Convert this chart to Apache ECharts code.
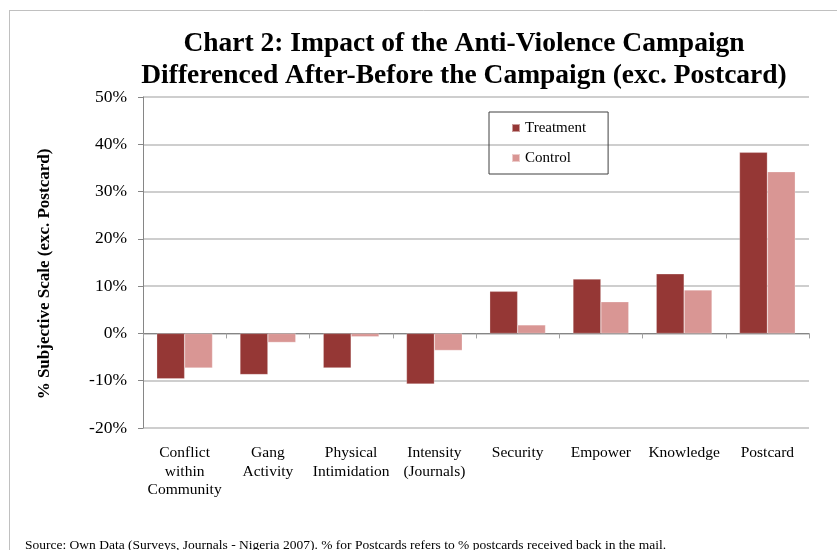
<!DOCTYPE html>
<html>
<head>
<meta charset="utf-8">
<script src="https://cdn.jsdelivr.net/npm/echarts@6/dist/echarts.min.js"></script>
<style>html,body{margin:0;padding:0;background:#fff;}#chart{width:837px;height:550px;}</style>
</head>
<body>
<div id="chart"></div>
<script>
const categories = ['Conflict\nwithin\nCommunity', 'Gang\nActivity', 'Physical\nIntimidation', 'Intensity\n(Journals)', 'Security', 'Empower', 'Knowledge', 'Postcard'];
const treatment = [-9.6, -8.7, -7.3, -10.7, 8.9, 11.5, 12.6, 38.3];
const control = [-7.3, -1.9, -0.7, -3.6, 1.8, 6.7, 9.2, 34.2];
const yTicks = { min: -20, max: 50, interval: 10 };

const FONT = "'Liberation Serif', 'Times New Roman', serif";
const chart = echarts.init(document.getElementById('chart'));
chart.setOption({
  backgroundColor: '#fff',
  animation: false,
  title: [{
    text: 'Chart 2: Impact of the Anti-Violence Campaign\nDifferenced After-Before the Campaign (exc. Postcard)',
    left: 459, top: 23, textAlign: 'center',
    textStyle: { fontFamily: FONT, fontSize: 27.5, fontWeight: 'bold', color: '#000', lineHeight: 32 }
  }, {
    text: 'Source: Own Data (Surveys, Journals - Nigeria 2007). % for Postcards refers to % postcards received back in the mail.',
    left: 20, top: 533,
    textStyle: { fontFamily: FONT, fontSize: 13.5, fontWeight: 'normal', color: '#000' }
  }],
  graphic: [
    { type: 'line', shape: { x1: 9.5, y1: 10, x2: 9.5, y2: 550 }, style: { stroke: '#C0C0C0', lineWidth: 1 } },
    { type: 'line', shape: { x1: 9.5, y1: 10.5, x2: 837, y2: 10.5 }, style: { stroke: '#C0C0C0', lineWidth: 1 } },
    { type: 'text', x: 45, y: 274, rotation: Math.PI / 2,
      style: { text: '% Subjective Scale (exc. Postcard)', font: "bold 17px 'Liberation Serif', 'Times New Roman', serif",
        fill: '#000', textAlign: 'center', textVerticalAlign: 'middle' } }
  ],
  legend: {
    orient: 'vertical',
    left: 489, top: 112,
    padding: [8, 22, 8, 22],
    itemGap: 14,
    itemWidth: 8, itemHeight: 8,
    borderColor: '#404040', borderWidth: 1,
    textStyle: { fontFamily: FONT, fontSize: 15, color: '#000', lineHeight: 16 },
    data: [{ name: 'Treatment', icon: 'rect' }, { name: 'Control', icon: 'rect' }]
  },
  grid: { left: 143, right: 28, top: 97, bottom: 122 },
  xAxis: [{
    type: 'category', data: categories, position: 'bottom',
    axisLine: { onZero: true, lineStyle: { color: '#868686', width: 1 } },
    axisTick: { show: true, length: 5, lineStyle: { color: '#A0A0A0' } },
    axisLabel: { show: false },
    splitLine: { show: false }
  }, {
    type: 'category', data: categories, position: 'bottom',
    axisLine: { show: false, onZero: false },
    axisTick: { show: false },
    axisLabel: { interval: 0, margin: 16, fontFamily: FONT, fontSize: 15.5, color: '#000', lineHeight: 18.5 }
  }],
  yAxis: {
    type: 'value', min: yTicks.min, max: yTicks.max, interval: yTicks.interval,
    axisLine: { show: true, lineStyle: { color: '#868686', width: 1 } },
    axisTick: { show: true, length: 5, lineStyle: { color: '#868686' } },
    axisLabel: { formatter: '{value}%', margin: 16, fontFamily: FONT, fontSize: 17.5, color: '#000' },
    splitLine: { show: true, lineStyle: { color: '#BEBEBE', width: 1.5 } }
  },
  series: [{
    name: 'Treatment', type: 'bar', data: treatment, xAxisIndex: 0,
    barGap: '0%', barCategoryGap: '33%',
    itemStyle: { color: '#953735', borderColor: 'rgba(255,255,255,0.5)', borderWidth: 0.5 }
  }, {
    name: 'Control', type: 'bar', data: control, xAxisIndex: 0,
    itemStyle: { color: '#D99694', borderColor: 'rgba(255,255,255,0.5)', borderWidth: 0.5 }
  }]
});
</script>
</body>
</html>
